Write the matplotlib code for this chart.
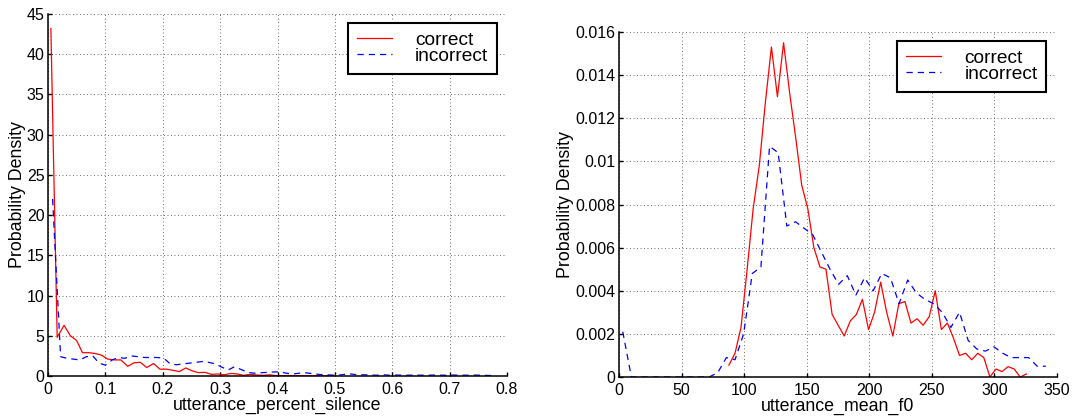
import numpy as np
import matplotlib
matplotlib.use("Agg")
import matplotlib.pyplot as plt

# utterance_percent_silence histogram (density), correct utterances
sil_x_correct = [0.005, 0.016, 0.028, 0.039, 0.050, 0.060, 0.071, 0.082, 0.093,
                 0.104, 0.116, 0.127, 0.139, 0.150, 0.161, 0.172, 0.184, 0.195,
                 0.206, 0.217, 0.229, 0.240, 0.251, 0.262, 0.274, 0.285, 0.296,
                 0.307, 0.319, 0.330, 0.341, 0.352, 0.364, 0.375, 0.386, 0.397,
                 0.409, 0.420, 0.431, 0.442, 0.454, 0.465, 0.476, 0.487, 0.499]
sil_y_correct = [43.2, 4.8, 6.3, 5.0, 4.4, 2.9, 2.9, 2.8, 2.6,
                 2.1, 2.0, 2.0, 1.2, 1.65, 1.7, 1.05, 1.55, 0.85,
                 0.85, 0.72, 0.55, 1.0, 0.65, 0.42, 0.45, 0.2, 0.25,
                 0.15, 0.32, 0.25, 0.08, 0.2, 0.12, 0.08, 0.15, 0.05,
                 0.04, 0.06, 0.03, 0.05, 0.02, 0.03, 0.02, 0.03, 0.01]

# utterance_percent_silence histogram (density), incorrect utterances
sil_x_incorrect = [0.008, 0.022, 0.033, 0.044, 0.055, 0.067, 0.078, 0.089, 0.100,
                   0.112, 0.123, 0.134, 0.145, 0.157, 0.168, 0.179, 0.190, 0.202,
                   0.213, 0.224, 0.235, 0.247, 0.258, 0.269, 0.280, 0.292, 0.303,
                   0.314, 0.325, 0.337, 0.348, 0.359, 0.370, 0.382, 0.393, 0.404,
                   0.415, 0.427, 0.438, 0.449, 0.460, 0.472, 0.483, 0.494, 0.505,
                   0.517, 0.528, 0.539, 0.550, 0.562, 0.573, 0.584, 0.595, 0.607,
                   0.618, 0.629, 0.640, 0.652, 0.663, 0.674, 0.685, 0.697, 0.708,
                   0.719, 0.730, 0.742, 0.753, 0.764, 0.775]
sil_y_incorrect = [22.0, 2.4, 2.2, 2.1, 2.0, 2.4, 2.5, 1.6, 1.35,
                   2.0, 2.3, 2.2, 2.5, 2.4, 2.3, 2.3, 2.3, 2.2,
                   1.5, 1.4, 1.5, 1.6, 1.7, 1.8, 1.7, 1.5, 1.1,
                   0.75, 1.15, 0.8, 0.45, 0.35, 0.4, 0.45, 0.5, 0.52,
                   0.35, 0.25, 0.35, 0.4, 0.3, 0.2, 0.15, 0.12, 0.1,
                   0.2, 0.25, 0.15, 0.15, 0.12, 0.1, 0.15, 0.1, 0.12,
                   0.1, 0.1, 0.12, 0.1, 0.1, 0.12, 0.1, 0.1, 0.12,
                   0.1, 0.1, 0.12, 0.1, 0.08, 0.05]

# utterance_mean_f0 histogram (density), correct utterances
f0_x_correct = [87.8, 92.7, 97.5, 102.4, 107.2, 112.1, 116.9, 121.8, 126.6, 131.5,
                136.3, 141.2, 146.0, 150.9, 155.7, 160.6, 165.4, 170.3, 175.1, 180.0,
                184.8, 189.7, 194.5, 199.4, 204.2, 209.1, 213.9, 218.8, 223.6, 228.5,
                233.3, 238.2, 243.0, 247.9, 252.7, 257.6, 262.4, 267.3, 272.1, 277.0,
                281.8, 286.7, 291.5, 296.4, 301.2, 306.1, 310.9, 315.8, 320.6, 325.5]
f0_y_correct = [0.00055, 0.0011, 0.0023, 0.0050, 0.0078, 0.0098, 0.0127, 0.0153, 0.0130, 0.0155,
                0.0132, 0.0111, 0.0089, 0.0078, 0.0060, 0.0051, 0.0050, 0.0029, 0.0024, 0.0019,
                0.0026, 0.0029, 0.0036, 0.0022, 0.0030, 0.0044, 0.0030, 0.0019, 0.0034, 0.0035,
                0.0025, 0.0027, 0.0024, 0.0028, 0.0040, 0.0022, 0.0025, 0.0018, 0.0010, 0.0011,
                0.0008, 0.0011, 0.0009, 0.0, 0.00037, 0.00025, 0.00048, 0.00037, 0.0, 0.00014]

# utterance_mean_f0 histogram (density), incorrect utterances
f0_x_incorrect = [3.0, 9.9, 16.8, 23.7, 30.6, 37.5, 44.4, 51.3, 58.2, 65.1,
                  72.0, 78.9, 85.8, 92.7, 99.6, 106.5, 113.4, 120.3, 127.2, 134.1,
                  141.0, 147.9, 154.8, 161.7, 168.6, 175.5, 182.4, 189.3, 196.2, 203.1,
                  210.0, 216.9, 223.8, 230.7, 237.6, 244.5, 251.4, 258.3, 265.2, 272.1,
                  279.0, 285.9, 292.8, 299.7, 306.6, 313.5, 320.4, 327.3, 334.2, 341.1]
f0_y_incorrect = [0.0021, 0.0, 0.0, 0.0, 0.0, 0.0, 0.0, 0.0, 0.0, 0.0,
                  0.0, 0.0002, 0.0009, 0.0008, 0.0020, 0.0048, 0.0051, 0.0107, 0.0104, 0.0070,
                  0.0072, 0.0069, 0.0066, 0.0058, 0.0050, 0.0043, 0.0047, 0.0038, 0.0046, 0.0040,
                  0.0048, 0.0046, 0.0034, 0.0045, 0.0039, 0.0036, 0.0034, 0.0030, 0.0023, 0.0030,
                  0.0017, 0.0013, 0.0012, 0.0014, 0.0011, 0.0009, 0.0009, 0.0009, 0.0005, 0.0005]

series_labels = ["correct", "incorrect"]

sil_xticks = [0, 0.1, 0.2, 0.3, 0.4, 0.5, 0.6, 0.7, 0.8]
sil_xticklabels = ["0", "0.1", "0.2", "0.3", "0.4", "0.5", "0.6", "0.7", "0.8"]
sil_yticks = [0, 5, 10, 15, 20, 25, 30, 35, 40, 45]
f0_xticks = [0, 50, 100, 150, 200, 250, 300, 350]
f0_yticks = [0, 0.002, 0.004, 0.006, 0.008, 0.01, 0.012, 0.014, 0.016]
f0_yticklabels = ["0", "0.002", "0.004", "0.006", "0.008", "0.01", "0.012",
                  "0.014", "0.016"]

plt.rcParams['font.family'] = ['Liberation Sans', 'DejaVu Sans']
TICK_FS = 11.5   # tick labels
LABEL_FS = 12.8  # axis labels
LEG_FS = 13.8    # legend entries


def style_axes(ax):
  """ Matlab-like look: dotted grid, open box, inward ticks """
  for side in ('top', 'right'):
    ax.spines[side].set_visible(False)
  for side in ('left', 'bottom'):
    ax.spines[side].set_linewidth(1.1)
    ax.spines[side].set_color('black')
  ax.grid(True, linestyle=(0, (1, 2.6)), color='#707070', linewidth=0.7)
  ax.set_axisbelow(True)
  ax.tick_params(direction='in', length=3, width=1.0, labelsize=TICK_FS,
                 colors='black')
  ax.tick_params(axis='x', pad=4)
  ax.tick_params(axis='y', pad=2.5)


def draw_pair(ax, xa, ya, xb, yb):
  ax.plot(xa, ya, color='#ff0000', linewidth=0.9, label=series_labels[0])
  ax.plot(xb, yb, color='#0000ff', linewidth=0.9, dashes=(5, 4),
          label=series_labels[1])


def add_legend(ax, anchor):
  leg = ax.legend(loc='upper right', bbox_to_anchor=anchor,
                  borderaxespad=0, fontsize=LEG_FS, handlelength=1.85,
                  handletextpad=1.2, labelspacing=-0.08, borderpad=0.45,
                  fancybox=False, framealpha=1, edgecolor='black')
  leg.get_frame().set_linewidth(1.5)


fig = plt.figure(figsize=(10.73, 4.17), dpi=100)

# Left: percent silence
ax1 = fig.add_axes([48 / 1073, 41 / 417, 459 / 1073, 362 / 417])
draw_pair(ax1, sil_x_correct, sil_y_correct, sil_x_incorrect, sil_y_incorrect)
ax1.set_xlim(0, 0.8)
ax1.set_ylim(0, 45)
ax1.set_xticks(sil_xticks)
ax1.set_xticklabels(sil_xticklabels)
ax1.set_yticks(sil_yticks)
style_axes(ax1)
ax1.set_xlabel('utterance_percent_silence', fontsize=LABEL_FS, labelpad=0)
ax1.set_ylabel('Probability Density', fontsize=LABEL_FS, labelpad=0.5)
add_legend(ax1, (0.978, 0.975))

# Right: mean f0
ax2 = fig.add_axes([619 / 1073, 40 / 417, 438 / 1073, 345 / 417])
draw_pair(ax2, f0_x_correct, f0_y_correct, f0_x_incorrect, f0_y_incorrect)
ax2.set_xlim(0, 350)
ax2.set_ylim(0, 0.016)
ax2.set_xticks(f0_xticks)
ax2.set_yticks(f0_yticks)
ax2.set_yticklabels(f0_yticklabels)
style_axes(ax2)
ax2.set_xlabel('utterance_mean_f0', fontsize=LABEL_FS, labelpad=0)
ax2.set_ylabel('Probability Density', fontsize=LABEL_FS, labelpad=1)
add_legend(ax2, (0.975, 0.974))

fig.savefig('out.png', dpi=100)
